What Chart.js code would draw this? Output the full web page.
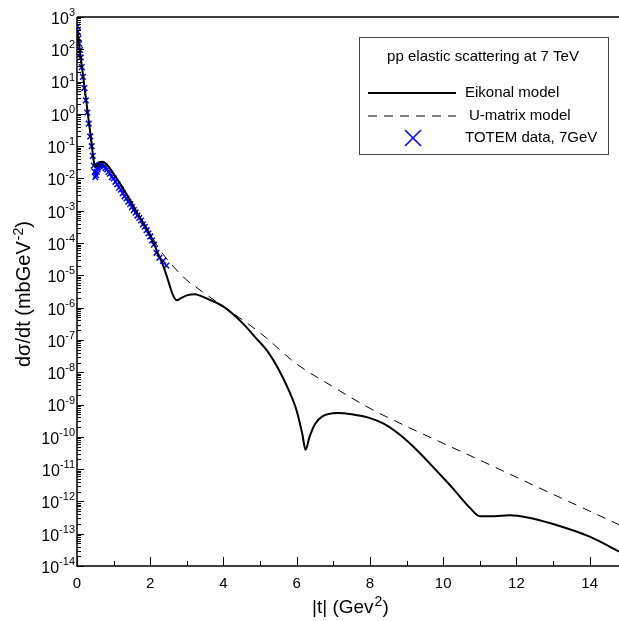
<!DOCTYPE html>
<html>
<head>
<meta charset="utf-8">
<script src="https://cdn.jsdelivr.net/npm/chart.js@4/dist/chart.umd.min.js"></script>
<style>
  html, body { margin: 0; padding: 0; background: #fff; overflow: hidden; }
  canvas { display: block; }
</style>
</head>
<body>
<canvas id="chart" width="619" height="621" style="width:619px;height:621px"></canvas>
<script>
// |t| in GeV^2 and dsigma/dt in mb GeV^-2
const eikonalT = [0, 0.1, 0.2, 0.3, 0.4, 0.45, 0.49, 0.55, 0.62, 0.7, 0.8, 1.0, 1.2, 1.45, 1.7, 2.0,
  2.2, 2.36, 2.5, 2.6, 2.72, 2.85, 3.0, 3.22, 3.5, 4.0, 4.5, 4.9, 5.2, 5.5, 5.8, 6.0, 6.15, 6.24,
  6.35, 6.5, 6.7, 7.13, 7.5, 8.0, 8.36, 8.8, 9.27, 9.9, 10.27, 10.73, 11.0, 11.4, 11.8, 12.3, 13.0, 14.0, 14.8];
const eikonalVal = [4.7e2, 5.9e1, 7.4, 9.3e-1, 1.2e-1, 4.0e-2, 2.3e-2, 2.6e-2, 3.2e-2, 3.3e-2, 2.8e-2, 1.4e-2, 6.3e-3, 2.1e-3, 6.6e-4, 1.8e-4,
  5.0e-5, 1.9e-5, 6.3e-6, 2.8e-6, 1.7e-6, 2.0e-6, 2.4e-6, 2.6e-6, 2.0e-6, 1.07e-6, 3.5e-7, 1.1e-7, 4.5e-8, 1.26e-8, 2.5e-9, 6.3e-10, 1.26e-10, 4.0e-11,
  1.0e-10, 2.5e-10, 4.3e-10, 5.5e-10, 5.0e-10, 3.8e-10, 2.6e-10, 1.2e-10, 4.0e-11, 7.1e-12, 2.5e-12, 6.3e-13, 3.5e-13, 3.5e-13, 3.7e-13, 3.2e-13, 2.0e-13, 8.1e-14, 2.8e-14];

const umatrixT = [0, 0.1, 0.2, 0.3, 0.4, 0.45, 0.5, 0.56, 0.65, 0.75, 1.0, 1.2, 1.45, 1.7, 2.0, 2.26, 2.5,
  2.9, 3.36, 4.0, 5.0, 6.0, 7.0, 8.0, 9.0, 10.0, 11.0, 12.0, 13.0, 14.0, 14.8];
const umatrixVal = [4.2e2, 5.2e1, 6.6, 8.3e-1, 1.05e-1, 3.5e-2, 2.0e-2, 2.2e-2, 2.6e-2, 2.5e-2, 1.26e-2, 5.8e-3, 2.0e-3, 6.6e-4, 1.9e-4, 6.2e-5, 2.8e-5,
  8.9e-6, 3.5e-6, 1.07e-6, 1.66e-7, 1.8e-8, 3.5e-9, 7.6e-10, 2.1e-10, 6.3e-11, 1.9e-11, 5.6e-12, 1.66e-12, 5.0e-13, 1.9e-13];

const totemT = [0.005, 0.02, 0.04, 0.06, 0.08, 0.1, 0.13, 0.16, 0.2, 0.24, 0.28, 0.32, 0.36, 0.4, 0.43, 0.46, 0.48,
  0.5, 0.52, 0.54, 0.56, 0.58, 0.6, 0.63, 0.66, 0.7, 0.74, 0.78, 0.82, 0.86, 0.9, 0.95, 1.0, 1.05, 1.1, 1.15, 1.2,
  1.25, 1.3, 1.35, 1.4, 1.45, 1.5, 1.55, 1.6, 1.65, 1.7, 1.75, 1.8, 1.85, 1.9, 1.95, 2.0, 2.05, 2.1, 2.17, 2.25, 2.35, 2.44];
const totemVal = [5.0e2, 3.5e2, 2.2e2, 1.5e2, 9.5e1, 5.6e1, 2.8e1, 1.4e1, 6.3, 2.6, 1.1, 5.0e-1, 2.0e-1, 1.0e-1, 5.0e-2, 2.5e-2, 1.6e-2,
  1.1e-2, 1.26e-2, 1.6e-2, 1.9e-2, 2.2e-2, 2.5e-2, 2.6e-2, 2.75e-2, 2.6e-2, 2.4e-2, 2.1e-2, 1.9e-2, 1.6e-2, 1.4e-2, 1.1e-2, 1.0e-2, 7.9e-3, 6.6e-3, 5.2e-3, 4.5e-3,
  3.5e-3, 2.8e-3, 2.4e-3, 1.9e-3, 1.6e-3, 1.3e-3, 1.05e-3, 8.7e-4, 7.1e-4, 6.0e-4, 5.0e-4, 3.8e-4, 3.2e-4, 2.5e-4, 2.0e-4, 1.6e-4, 1.2e-4, 8.9e-5, 5.0e-5, 3.5e-5, 2.8e-5, 2.0e-5];

const xMajorTicks = [0, 2, 4, 6, 8, 10, 12, 14];
const xMinorTicks = [1, 3, 5, 7, 9, 11, 13];
const yExponents = [3, 2, 1, 0, -1, -2, -3, -4, -5, -6, -7, -8, -9, -10, -11, -12, -13, -14];

const legendTitle = 'pp elastic scattering at 7 TeV';
const fontFamily = '"Liberation Sans", Arial, Helvetica, sans-serif';

function pts(xs, ys) {
  return xs.map((x, i) => ({ x: x, y: ys[i] }));
}

// frame, inward ticks and superscript labels
const axesPlugin = {
  id: 'axesPlugin',
  afterDraw(chart) {
    const ctx = chart.ctx;
    const a = chart.chartArea;
    const xs = chart.scales.x;
    const ys = chart.scales.y;
    ctx.save();
    ctx.strokeStyle = '#000';
    ctx.lineWidth = 1.5;
    ctx.beginPath();
    ctx.moveTo(a.left, a.top);
    ctx.lineTo(a.right, a.top);
    ctx.moveTo(a.left, a.top);
    ctx.lineTo(a.left, a.bottom);
    ctx.lineTo(a.right, a.bottom);
    ctx.stroke();

    ctx.lineWidth = 1;
    ctx.beginPath();
    xMajorTicks.forEach(v => {
      const px = Math.round(xs.getPixelForValue(v)) + 0.5;
      ctx.moveTo(px, a.bottom);
      ctx.lineTo(px, a.bottom - 9);
    });
    xMinorTicks.forEach(v => {
      const px = Math.round(xs.getPixelForValue(v)) + 0.5;
      ctx.moveTo(px, a.bottom);
      ctx.lineTo(px, a.bottom - 5);
    });
    yExponents.forEach(e => {
      const py = Math.round(ys.getPixelForValue(Math.pow(10, e))) + 0.5;
      ctx.moveTo(a.left, py);
      ctx.lineTo(a.left + 7, py);
      if (e < 3) {
        for (let m = 2; m <= 9; m++) {
          const q = Math.round(ys.getPixelForValue(m * Math.pow(10, e))) + 0.5;
          ctx.moveTo(a.left, q);
          ctx.lineTo(a.left + 4, q);
        }
      }
    });
    ctx.stroke();

    ctx.fillStyle = '#000';
    ctx.textBaseline = 'middle';
    ctx.textAlign = 'center';
    ctx.font = '15px ' + fontFamily;
    xMajorTicks.forEach(v => {
      ctx.fillText(String(v), xs.getPixelForValue(v), a.bottom + 18);
    });

    ctx.textAlign = 'left';
    yExponents.forEach(e => {
      const py = ys.getPixelForValue(Math.pow(10, e));
      const exp = String(e);
      ctx.font = '11px ' + fontFamily;
      const ew = ctx.measureText(exp).width;
      ctx.font = '16px ' + fontFamily;
      const bw = ctx.measureText('10').width;
      const right = a.left - 2;
      ctx.fillText('10', right - ew - bw, py + 2.5);
      ctx.font = '11px ' + fontFamily;
      ctx.fillText(exp, right - ew, py - 4);
    });

    // x title
    ctx.textBaseline = 'alphabetic';
    ctx.font = '19px ' + fontFamily;
    let x0 = 312;
    ctx.fillText('|t| (Gev', x0, 613);
    x0 += ctx.measureText('|t| (Gev').width;
    ctx.font = '14px ' + fontFamily;
    ctx.fillText('2', x0 + 1, 606);
    x0 += ctx.measureText('2').width + 1;
    ctx.font = '19px ' + fontFamily;
    ctx.fillText(')', x0, 613);

    // y title
    ctx.translate(30, 367);
    ctx.rotate(-Math.PI / 2);
    ctx.font = '20px ' + fontFamily;
    let y0 = 0;
    ctx.fillText('d\u03c3/dt (mbGeV', y0, 0);
    y0 += ctx.measureText('d\u03c3/dt (mbGeV').width;
    ctx.font = '14px ' + fontFamily;
    ctx.fillText('-2', y0 + 1, -7);
    y0 += ctx.measureText('-2').width + 1;
    ctx.font = '20px ' + fontFamily;
    ctx.fillText(')', y0, 0);
    ctx.restore();
  }
};

// boxed legend inside the plot
const legendPlugin = {
  id: 'boxLegend',
  afterDraw(chart) {
    const ctx = chart.ctx;
    const box = { left: 359.5, top: 37.5, right: 608.5, bottom: 154.5 };
    ctx.save();
    ctx.fillStyle = '#fff';
    ctx.fillRect(box.left, box.top, box.right - box.left, box.bottom - box.top);
    ctx.strokeStyle = '#444';
    ctx.lineWidth = 1;
    ctx.strokeRect(box.left, box.top, box.right - box.left, box.bottom - box.top);

    ctx.fillStyle = '#000';
    ctx.font = '15px ' + fontFamily;
    ctx.textBaseline = 'middle';
    ctx.textAlign = 'center';
    ctx.fillText(legendTitle, 483, 57);

    ctx.textAlign = 'left';
    const rows = [93, 116, 138];
    const textX = [465, 469, 465];
    chart.data.datasets.forEach((ds, i) => {
      const y = rows[i];
      ctx.strokeStyle = ds.borderColor;
      if (ds.showLine) {
        ctx.lineWidth = ds.borderWidth;
        ctx.setLineDash(ds.borderDash || []);
        ctx.beginPath();
        ctx.moveTo(368, y);
        ctx.lineTo(456, y);
        ctx.stroke();
        ctx.setLineDash([]);
      } else {
        ctx.lineWidth = 1.6;
        ctx.beginPath();
        ctx.moveTo(405, y - 8);
        ctx.lineTo(421, y + 8);
        ctx.moveTo(421, y - 8);
        ctx.lineTo(405, y + 8);
        ctx.stroke();
      }
      ctx.fillText(ds.label, textX[i], y);
    });
    ctx.restore();
  }
};

new Chart(document.getElementById('chart').getContext('2d'), {
  type: 'scatter',
  data: {
    datasets: [
      {
        label: 'Eikonal model',
        data: pts(eikonalT, eikonalVal),
        showLine: true,
        borderColor: '#000',
        borderWidth: 2,
        pointRadius: 0,
        cubicInterpolationMode: 'monotone',
        order: 1
      },
      {
        label: 'U-matrix model',
        data: pts(umatrixT, umatrixVal),
        showLine: true,
        borderColor: '#000',
        borderWidth: 1,
        borderDash: [9, 7],
        pointRadius: 0,
        cubicInterpolationMode: 'monotone',
        order: 2
      },
      {
        label: 'TOTEM data, 7GeV',
        data: pts(totemT, totemVal),
        showLine: false,
        borderColor: '#0000ff',
        backgroundColor: '#0000ff',
        pointStyle: 'crossRot',
        pointRadius: 4,
        pointBorderWidth: 1.5,
        order: 3
      }
    ]
  },
  options: {
    responsive: false,
    animation: false,
    devicePixelRatio: 1,
    layout: { autoPadding: false, padding: { left: 77, top: 17, right: 0, bottom: 55 } },
    plugins: {
      legend: { display: false },
      tooltip: { enabled: false }
    },
    scales: {
      x: { type: 'linear', min: 0, max: 14.8, display: false },
      y: { type: 'logarithmic', min: 1e-14, max: 1e3, display: false }
    }
  },
  plugins: [axesPlugin, legendPlugin]
});
</script>
</body>
</html>
